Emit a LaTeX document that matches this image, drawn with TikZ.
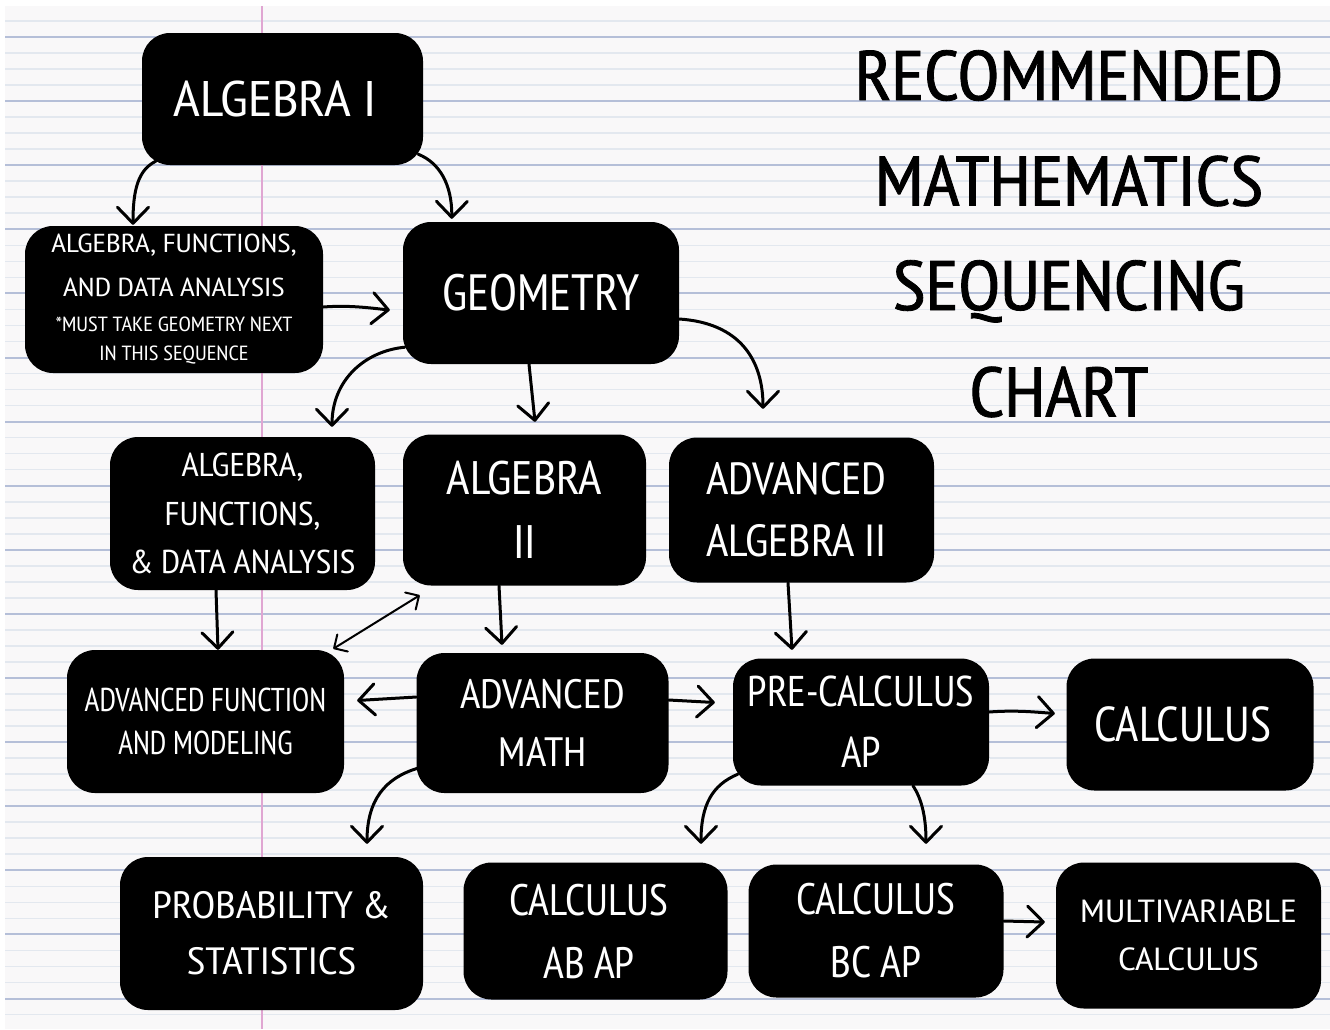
\documentclass[tikz,border=0pt]{standalone}
\usepackage{fontspec}
\setmainfont{PT Sans Narrow}
\newfontfamily\fTitle{PT Sans Narrow}[FakeStretch=1.09,FakeBold=1.2]
\newfontfamily\fA{PT Sans Narrow}[FakeStretch=1.13]
\newfontfamily\fB{PT Sans Narrow}[FakeStretch=1.2]
\newfontfamily\fC{PT Sans Narrow}[FakeStretch=1.1]
\newfontfamily\fD{PT Sans Narrow}[FakeStretch=1.05]
\newfontfamily\fE{PT Sans Narrow}[FakeStretch=0.95]
\newfontfamily\fF{PT Sans Narrow}[FakeStretch=1.14]
\newfontfamily\fG{PT Sans Narrow}[FakeStretch=1.22]
\usetikzlibrary{arrows.meta}
\definecolor{paper}{HTML}{F9F8F9}
\definecolor{rulecol}{HTML}{B5BFD8}
\definecolor{thinrule}{HTML}{E3E8EF}
\definecolor{margincol}{HTML}{E0A6D2}
\newcommand{\pushl}[1]{\rule{#1}{0pt}}
\begin{document}
\begin{tikzpicture}[x=1pt,y=-1pt,
  box/.style={fill=black, rounded corners=28pt, text=white, align=center, inner sep=0pt},
  conn/.style={line width=3pt, line cap=round, line join=round, -{Straight Barb[length=16pt,width=31pt,round]}},
  dconn/.style={line width=2pt, line cap=round, line join=round, {Straight Barb[length=10pt,width=20pt,round]}-{Straight Barb[length=10pt,width=20pt,round]}},
  ttl/.style={anchor=base, inner sep=0pt, font=\fTitle\fontsize{70}{70}\selectfont}]
\useasboundingbox (0,0) rectangle (1330,1029);
% paper
\fill[white] (0,0) rectangle (1330,1029);
\fill[paper] (5,6) rectangle (1330,1029);
\foreach \j in {-1,...,61}{
  \draw[thinrule, line width=1.6pt] (5,{37+16.025*\j}) -- (1330,{37+16.025*\j});
}
\foreach \k in {0,...,15}{
  \draw[rulecol, line width=2pt] (5,{37+64.1*\k}) -- (1330,{37+64.1*\k});
}
\draw[margincol, line width=2.5pt] (262,6) -- (262,1029);

% title
\node[ttl] (t1) at (1069,100) {RECOMMENDED};
\node[ttl] (t2) at (1069,205.5) {MATHEMATICS};
\node[ttl] (t3) at (1069,310) {SEQUENCING};
\node[ttl] (t4) at (1059,416.5) {CHART};

% boxes
\node[box, minimum width=281pt, minimum height=132pt, font=\fA\fontsize{50}{50}\selectfont] (alg1) at (282.5,99) {ALGEBRA I\pushl{15pt}};
\node[box, minimum width=298pt, minimum height=147pt, font=\fB\fontsize{26}{44}\selectfont] (afda1) at (174,299.5)
  {ALGEBRA, FUNCTIONS,\\AND DATA ANALYSIS\\[-9pt]\fC\fontsize{20.5}{22}\selectfont *MUST TAKE GEOMETRY NEXT\\[-15pt]\fC\fontsize{20.5}{22}\selectfont IN THIS SEQUENCE};
\node[box, minimum width=276pt, minimum height=142pt, font=\fontsize{51}{51}\selectfont] (geom) at (541,293) {GEOMETRY};
\node[box, minimum width=265pt, minimum height=153pt, font=\fC\fontsize{33}{48.5}\selectfont] (afda2) at (242.5,513.5) {ALGEBRA,\\FUNCTIONS,\\\&~DATA ANALYSIS};
\node[box, minimum width=243pt, minimum height=151pt, font=\fD\fontsize{47}{64}\selectfont] (alg2) at (524.5,510) {ALGEBRA\\II};
\node[box, minimum width=265pt, minimum height=145pt, font=\fD\fontsize{45}{62}\selectfont] (advalg2) at (801.5,510) {ADVANCED\pushl{10pt}\\ALGEBRA II\pushl{10pt}};
\node[box, minimum width=277pt, minimum height=143pt, font=\fE\fontsize{33}{43}\selectfont] (advfunc) at (205.5,721.5) {ADVANCED FUNCTION\\AND MODELING};
\node[box, minimum width=252pt, minimum height=140pt, font=\fD\fontsize{41}{58}\selectfont] (advmath) at (542.5,723) {ADVANCED\\MATH};
\node[box, minimum width=256pt, minimum height=127pt, font=\fontsize{43}{61}\selectfont] (precalc) at (861,722) {PRE-CALCULUS\\AP};
\node[box, minimum width=247pt, minimum height=132pt, font=\fontsize{49}{49}\selectfont] (calc) at (1190,724.5) {CALCULUS\pushl{14pt}};
\node[box, minimum width=303pt, minimum height=153pt, font=\fF\fontsize{38}{56}\selectfont] (prob) at (271.5,933.5) {PROBABILITY \&\\STATISTICS};
\node[box, minimum width=264pt, minimum height=137pt, font=\fontsize{44}{63}\selectfont] (calcab) at (595.5,931) {CALCULUS\pushl{13pt}\\AB AP\pushl{13pt}};
\node[box, minimum width=255pt, minimum height=133pt, font=\fontsize{44}{63}\selectfont] (calcbc) at (876,931) {CALCULUS\\BC AP};
\node[box, minimum width=265pt, minimum height=146pt, font=\fG\fontsize{32}{48}\selectfont] (multi) at (1188.5,935.5) {MULTIVARIABLE\\CALCULUS};

% connectors
\draw[conn] ([shift={(14,-4)}]alg1.south west) .. controls (138,170) and (133,190) .. ([shift={(-41,-1)}]afda1.north);
\draw[conn] ([shift={(-5,-11)}]alg1.south east) .. controls (440,163) and (452,185) .. ([shift={(49,-3)}]geom.north west);
\draw[conn] ([shift={(0,7.5)}]afda1.east) .. controls (350,305) and (370,308) .. ([shift={(-13,17)}]geom.west);
\draw[conn] ([shift={(2,-17)}]geom.south west) .. controls (365,351) and (332,380) .. ([shift={(89.5,-10)}]afda2.north);
\draw[conn] ([shift={(-12,0)}]geom.south) -- ([shift={(10.5,-12.5)}]alg2.north);
\draw[conn] ([shift={(0,26)}]geom.east) .. controls (740,323) and (763,360) .. ([shift={(-38.5,-28.5)}]advalg2.north);
\draw[conn] ([shift={(-26.5,0)}]afda2.south) -- ([shift={(12.5,0)}]advfunc.north);
\draw[dconn] ([shift={(17,9.5)}]alg2.south west) -- ([shift={(-11,-1)}]advfunc.north east);
\draw[conn] ([shift={(-25.5,0)}]alg2.south) -- ([shift={(-40.5,-8)}]advmath.north);
\draw[conn] ([shift={(-13.5,0)}]advalg2.south) -- ([shift={(-69,-8.5)}]precalc.north);
\draw[conn] ([shift={(0,-26)}]advmath.west) -- ([shift={(13,-21)}]advfunc.east);
\draw[conn] ([shift={(0,-23)}]advmath.east) -- ([shift={(-18,-19.5)}]precalc.west);
\draw[conn] ([shift={(1.5,-25)}]advmath.south west) .. controls (385,778) and (367,800) .. ([shift={(95.5,-13)}]prob.north);
\draw[conn] ([shift={(0,-10)}]precalc.east) .. controls (1015,710) and (1035,712) .. ([shift={(-11.5,-11)}]calc.west);
\draw[conn] ([shift={(5,-11.5)}]precalc.south west) .. controls (712,785) and (701,805) .. ([shift={(105.5,-18.5)}]calcab.north);
\draw[conn] ([shift={(52,0)}]precalc.south) .. controls (921,798) and (926,815) .. ([shift={(50,-20.5)}]calcbc.north);
\draw[conn] ([shift={(0,-10)}]calcbc.east) -- ([shift={(-11,-13.5)}]multi.west);
\end{tikzpicture}
\end{document}
